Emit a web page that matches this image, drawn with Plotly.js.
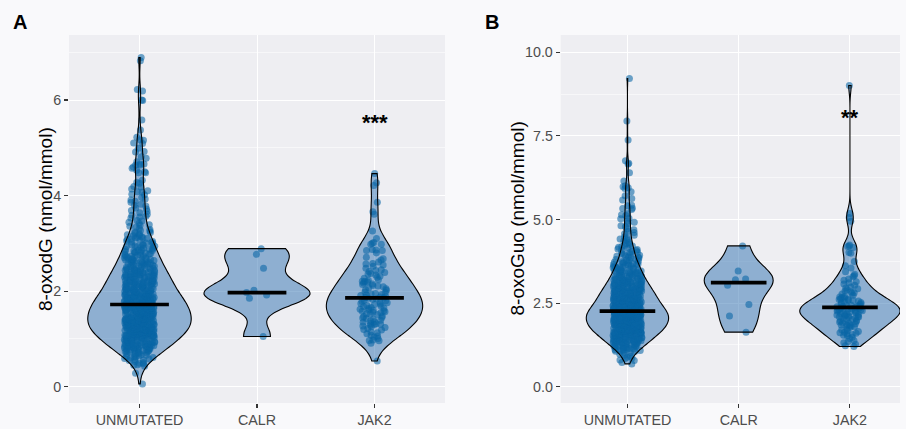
<!DOCTYPE html>
<html><head><meta charset="utf-8">
<script src="https://cdn.plot.ly/plotly-3.0.1.min.js"></script>
<style>html,body{margin:0;padding:0;background:#fff}#chart{width:906px;height:429px}</style>
</head><body><div id="chart"></div>
<script>
// ---------------- DATA (read / estimated from the picture) ----------------
const categories = ['UNMUTATED', 'CALR', 'JAK2'];
const yTitles = ['8-oxodG (nmol/mmol)', '8-oxoGuo (nmol/mmol)'];
const panelLabels = ['A', 'B'];

const unmutA = [0.06,0.28,0.43,0.45,0.46,0.48,0.49,
0.62,0.55,0.71,0.58,0.66,0.74,0.51,0.69,0.6,0.73,0.64,0.57,0.7,0.68,0.53,0.72,0.61,0.74,0.65,0.59,0.67,0.71,0.63,0.56,
0.81,0.93,0.77,0.88,0.96,0.84,0.79,0.91,0.99,0.86,0.76,0.83,0.95,0.9,0.78,0.87,0.97,0.82,0.92,0.8,
0.89,0.98,0.85,0.75,0.94,0.81,0.87,0.93,0.79,0.96,0.84,0.9,0.77,0.99,0.86,0.92,0.83,0.88,0.95,0.8,
0.97,0.85,0.91,0.78,0.89,0.94,0.82,0.98,0.87,0.76,0.93,0.84,0.9,0.96,0.88,
1.12,1.03,1.21,1.08,1.17,1.01,1.14,1.23,1.06,1.19,1.1,1.24,1.04,1.16,1.09,1.2,1.02,1.13,1.22,1.07,
1.18,1.05,1.15,1.11,1.24,1.0,1.19,1.08,1.21,1.13,1.03,1.17,1.1,1.22,1.06,1.15,1.01,1.2,1.12,1.09,
1.23,1.04,1.18,1.14,1.07,1.21,1.11,1.02,1.16,1.24,1.05,1.19,1.13,1.08,1.22,1.1,1.17,1.03,1.2,1.15,
1.06,1.23,1.12,1.09,1.18,1.01,1.14,1.21,1.07,1.16,1.11,1.24,1.04,1.19,1.13,1.22,1.08,1.17,1.1,1.2,
1.37,1.28,1.45,1.31,1.42,1.26,1.39,1.48,1.33,1.44,1.29,1.41,1.35,1.47,1.27,1.38,1.46,1.32,1.4,1.49,
1.3,1.43,1.36,1.25,1.45,1.34,1.41,1.28,1.47,1.38,1.33,1.44,1.26,1.39,1.48,1.31,1.42,1.35,1.29,1.46,
1.37,1.27,1.43,1.32,1.49,1.4,1.3,1.45,1.36,1.28,1.41,1.34,1.47,1.25,1.38,1.44,1.33,1.42,1.29,1.46,
1.35,1.4,1.27,1.48,1.31,1.43,1.37,1.26,1.45,1.39,1.32,1.47,1.36,1.3,1.44,1.41,1.28,1.49,1.34,1.38,
1.42,1.33,1.46,1.29,1.4,1.35,1.43,1.37,
1.62,1.53,1.7,1.57,1.66,1.51,1.73,1.59,1.68,1.55,1.64,1.72,1.52,1.61,1.69,1.56,1.74,1.6,1.65,1.5,
1.67,1.58,1.71,1.54,1.63,1.7,1.57,1.66,1.52,1.73,1.61,1.55,1.68,1.64,1.59,1.72,1.53,1.65,1.74,1.58,
1.62,1.5,1.69,1.56,1.67,1.6,1.71,1.54,1.63,1.66,1.51,1.7,1.58,1.73,1.61,1.55,1.68,1.64,1.57,1.72,
1.52,1.65,1.6,1.74,1.59,1.67,1.53,1.69,1.62,1.56,1.71,1.63,1.54,1.66,1.58,1.73,1.61,1.68,1.5,1.64,
1.57,1.7,1.55,1.67,
1.86,1.77,1.93,1.81,1.98,1.84,1.76,1.91,1.88,1.95,1.79,1.83,1.97,1.87,1.75,1.92,1.8,1.89,1.99,1.85,
1.78,1.94,1.82,1.9,1.96,1.86,1.77,1.93,1.84,1.81,1.98,1.88,1.76,1.91,1.83,1.95,1.79,1.87,1.97,1.85,
1.8,1.92,1.89,1.75,1.94,1.82,1.99,1.86,1.78,1.9,1.84,1.96,1.81,1.88,1.93,1.77,1.85,1.91,1.83,1.97,
1.79,1.87,1.95,1.82,1.9,1.76,1.89,1.94,1.8,1.86,
2.12,2.03,2.19,2.07,2.23,2.01,2.15,2.09,2.21,2.05,2.17,2.11,2.0,2.24,2.08,2.14,2.02,2.2,2.1,2.16,
2.06,2.22,2.13,2.04,2.18,2.09,2.24,2.01,2.15,2.11,2.07,2.2,2.03,2.17,2.12,2.23,2.05,2.14,2.19,2.08,
2.02,2.16,2.1,2.21,2.06,2.13,2.0,2.18,2.04,2.22,2.11,2.15,2.07,2.19,2.09,2.14,2.03,2.17,
2.36,2.27,2.43,2.31,2.48,2.29,2.39,2.34,2.45,2.26,2.41,2.33,2.47,2.3,2.38,2.44,2.28,2.35,2.49,2.32,
2.4,2.25,2.46,2.37,2.3,2.42,2.34,2.27,2.45,2.39,2.31,2.48,2.36,2.29,2.43,2.26,2.38,2.44,2.33,2.47,
2.35,2.28,2.41,2.32,2.46,2.37,2.4,2.3,
2.61,2.52,2.68,2.56,2.73,2.59,2.65,2.51,2.7,2.63,2.54,2.67,2.58,2.74,2.6,2.53,2.69,2.64,2.57,2.72,
2.5,2.66,2.62,2.55,2.71,2.59,2.68,2.53,2.63,2.74,2.57,2.65,2.61,2.52,2.7,2.56,2.67,
2.86,2.77,2.93,2.81,2.98,2.84,2.79,2.91,2.88,2.96,2.82,2.76,2.94,2.87,2.8,2.99,2.85,2.9,2.78,2.95,
2.83,2.92,2.89,2.75,2.97,2.86,2.81,2.93,
3.11,3.02,3.18,3.06,3.23,3.09,3.14,3.01,3.2,3.12,3.04,3.17,3.08,3.24,3.13,3.05,3.21,3.1,3.16,3.03,
3.36,3.27,3.44,3.31,3.48,3.39,3.29,3.42,3.34,3.47,3.26,3.38,
3.61,3.53,3.69,3.57,3.72,3.64,3.55,3.67,3.59,3.74,
3.82,3.91,3.78,3.96,3.86,3.93,3.8,3.88,
6.89,6.82,6.22,6.19,6.0,5.99,5.58,5.37,5.22,5.17,5.16,5.1,5.09,4.99,4.92,4.91,4.81,4.78,4.71,4.66,
4.66,4.64,4.64,4.6,4.57,4.53,4.5,4.48,4.48,4.32,4.28,4.26,4.19,4.18,4.1,4.08,4.07,4.03,4.02,4.14];

const calrA = [2.89,2.77,2.48,2.02,1.97,1.92,1.85,1.05];

const jak2A = [0.54,0.96,0.98,0.91,0.97,
1.01,1.08,1.15,1.22,1.04,1.19,1.11,1.24,1.06,1.13,1.2,
1.3,1.36,1.27,1.43,1.33,1.48,1.39,1.26,1.45,1.31,1.41,1.35,1.47,1.29,1.38,1.44,1.32,
1.62,1.53,1.7,1.57,1.66,1.51,1.73,1.59,1.68,1.55,1.64,1.72,1.52,1.61,1.69,1.56,1.74,1.6,1.65,1.58,
1.86,1.77,1.93,1.81,1.98,1.84,1.76,1.91,1.88,1.95,1.79,1.83,1.97,1.87,1.92,1.8,1.89,1.85,1.94,
2.12,2.03,2.19,2.07,2.23,2.15,2.09,2.21,2.05,2.17,2.11,2.24,2.14,2.02,2.2,
2.36,2.27,2.43,2.31,2.48,2.39,2.34,2.45,2.29,2.41,2.37,
2.61,2.52,2.68,2.57,2.71,2.65,2.58,2.55,
2.98,2.98,2.87,2.86,2.85,2.85,2.8,
3.0,3.1,3.02,3.26,3.66,3.61,3.86,4.46,4.27,4.21];

const unmutB = [0.68,0.72,0.78,0.91,0.84,0.97,0.8,0.88,0.94,0.86,
1.12,1.03,1.21,1.08,1.17,1.14,1.23,1.06,1.19,1.1,1.24,1.16,1.09,1.2,1.02,1.13,1.22,1.07,1.18,1.15,1.11,1.24,1.19,1.05,1.21,
1.37,1.28,1.45,1.31,1.42,1.26,1.39,1.48,1.33,1.44,1.29,1.41,1.35,1.47,1.27,1.38,1.46,1.32,1.4,1.49,
1.3,1.43,1.36,1.25,1.45,1.34,1.41,1.28,1.47,1.38,1.33,1.44,1.39,1.48,1.31,1.42,1.35,1.46,1.37,1.43,1.49,1.4,1.45,1.36,
1.62,1.53,1.7,1.57,1.66,1.51,1.73,1.59,1.68,1.55,1.64,1.72,1.52,1.61,1.69,1.56,1.74,1.6,1.65,1.5,
1.67,1.58,1.71,1.54,1.63,1.7,1.57,1.66,1.52,1.73,1.61,1.55,1.68,1.64,1.59,1.72,1.53,1.65,1.74,1.58,
1.62,1.69,1.56,1.67,1.6,1.71,1.54,1.63,1.66,1.7,1.58,1.73,1.61,1.68,1.64,1.72,1.65,1.74,1.59,1.67,1.63,1.71,
1.86,1.77,1.93,1.81,1.98,1.84,1.76,1.91,1.88,1.95,1.79,1.83,1.97,1.87,1.75,1.92,1.8,1.89,1.99,1.85,
1.78,1.94,1.82,1.9,1.96,1.86,1.77,1.93,1.84,1.81,1.98,1.88,1.76,1.91,1.83,1.95,1.79,1.87,1.97,1.85,
1.8,1.92,1.89,1.75,1.94,1.82,1.99,1.86,1.78,1.9,1.84,1.96,1.81,1.88,1.93,1.77,1.85,1.91,1.83,1.97,
1.79,1.87,1.95,1.82,1.9,1.76,1.89,1.94,1.8,1.86,1.92,1.98,1.84,1.96,1.88,1.99,
2.12,2.03,2.19,2.07,2.23,2.01,2.15,2.09,2.21,2.05,2.17,2.11,2.0,2.24,2.08,2.14,2.02,2.2,2.1,2.16,
2.06,2.22,2.13,2.04,2.18,2.09,2.24,2.01,2.15,2.11,2.07,2.2,2.03,2.17,2.12,2.23,2.05,2.14,2.19,2.08,
2.02,2.16,2.1,2.21,2.06,2.13,2.0,2.18,2.04,2.22,2.11,2.15,2.07,2.19,2.09,2.14,2.03,2.17,2.12,2.24,
2.06,2.2,2.1,2.16,2.01,2.23,2.13,2.08,2.18,2.05,2.21,2.11,2.15,2.02,2.19,2.09,2.14,2.22,2.07,2.17,2.12,2.04,
2.36,2.27,2.43,2.31,2.48,2.29,2.39,2.34,2.45,2.26,2.41,2.33,2.47,2.3,2.38,2.44,2.28,2.35,2.49,2.32,
2.4,2.25,2.46,2.37,2.3,2.42,2.34,2.27,2.45,2.39,2.31,2.48,2.36,2.29,2.43,2.26,2.38,2.44,2.33,2.47,
2.35,2.28,2.41,2.32,2.46,2.37,2.4,2.3,2.43,2.27,2.39,2.34,2.48,2.31,2.45,2.36,2.29,2.42,2.33,2.47,
2.38,2.26,2.44,2.35,2.41,2.32,2.49,2.37,
2.61,2.52,2.68,2.56,2.73,2.59,2.65,2.51,2.7,2.63,2.54,2.67,2.58,2.74,2.6,2.53,2.69,2.64,2.57,2.72,
2.5,2.66,2.62,2.55,2.71,2.59,2.68,2.53,2.63,2.74,2.57,2.65,2.61,2.52,2.7,2.56,2.67,2.6,2.73,2.54,
2.64,2.69,2.58,2.51,2.66,2.62,2.72,2.55,2.68,2.6,2.57,2.71,2.63,2.53,2.67,2.59,2.65,
2.86,2.77,2.93,2.81,2.98,2.84,2.79,2.91,2.88,2.96,2.82,2.76,2.94,2.87,2.8,2.99,2.85,2.9,2.78,2.95,
2.83,2.92,2.89,2.75,2.97,2.86,2.81,2.93,2.79,2.88,2.84,2.96,2.77,2.91,2.82,2.98,2.87,2.8,2.94,2.85,
2.9,2.76,2.92,2.83,2.97,2.89,2.78,2.95,2.86,
3.11,3.02,3.18,3.06,3.23,3.09,3.14,3.01,3.2,3.12,3.04,3.17,3.08,3.24,3.13,3.05,3.21,3.1,3.16,3.03,
3.19,3.07,3.22,3.0,3.15,3.11,3.06,3.18,3.09,3.13,3.2,3.04,3.16,3.08,3.23,3.12,3.02,3.17,
3.36,3.27,3.44,3.31,3.48,3.39,3.29,3.42,3.34,3.47,3.26,3.38,3.45,3.32,3.41,3.28,3.49,3.35,3.43,3.3,
3.46,3.37,3.25,3.4,3.33,3.47,3.39,3.44,3.31,
3.61,3.53,3.69,3.57,3.72,3.64,3.55,3.67,3.51,3.7,3.59,3.63,3.74,3.56,3.66,3.52,3.71,3.6,3.68,3.54,3.65,3.58,
3.82,3.91,3.78,3.96,3.86,3.8,3.93,3.88,3.76,3.99,3.84,3.9,3.79,3.95,3.87,
4.12,4.03,4.19,4.07,4.23,4.1,4.15,4.01,4.21,4.05,4.17,4.09,
4.36,4.28,4.44,4.31,4.48,4.39,4.26,4.42,
4.61,4.53,4.69,4.57,4.72,4.64,
4.89,4.81,4.95,4.78,4.92,
9.22,7.95,7.38,6.76,6.68,6.66,6.4,6.15,6.01,5.98,5.95,5.93,5.83,5.71,5.63,5.58,5.43,5.41,5.34,5.33,
5.3,5.17,5.14,5.12,5.04,5.02];

const calrB = [4.21,3.46,3.22,3.2,3.03,2.46,2.11,1.63];

const jak2B = [1.2,1.22,1.31,1.27,1.44,1.38,1.48,1.35,
1.52,1.61,1.56,1.68,1.58,1.72,1.54,1.65,1.6,1.7,1.63,
1.86,1.77,1.93,1.81,1.98,1.84,1.91,1.88,1.95,1.79,1.97,1.83,1.9,1.85,
2.12,2.03,2.19,2.07,2.23,2.01,2.15,2.09,2.21,2.05,2.17,2.11,2.24,2.08,2.14,2.02,2.2,2.1,2.16,
2.36,2.27,2.43,2.31,2.48,2.29,2.39,2.34,2.45,2.26,2.41,2.33,2.47,2.3,2.38,2.44,2.28,2.35,2.32,2.4,2.37,
2.61,2.52,2.68,2.56,2.73,2.59,2.65,2.51,2.7,2.63,2.54,2.67,2.58,2.62,
2.86,2.77,2.93,2.81,2.98,2.84,2.9,2.79,2.95,
3.11,3.03,3.18,3.07,3.22,3.14,
3.36,3.29,3.44,3.32,
3.74,3.62,3.99,3.55,
4.24,4.21,4.19,4.16,4.01,
5.18,5.06,4.95,
9.01];

const mediansA = [1.72, 1.97, 1.86];
const mediansB = [2.26, 3.11, 2.37];

const yTickValsA = [0, 2, 4, 6];
const yTickTextA = ['0', '2', '4', '6'];
const yTickValsB = [0, 2.5, 5, 7.5, 10];
const yTickTextB = ['0.0', '2.5', '5.0', '7.5', '10.0'];

const sigLabels = ['***', '**'];
const sigValues = [5.6, 8.13];

// ---------------- STYLE ----------------
const FONT = 'Liberation Sans, Arial, sans-serif';
const violinWidthsA = [0.88, 0.90, 0.82];
const violinWidthsB = [0.74, 0.62, 0.90];
const bwScaleA = [0.85, 0.85, 1];
const bwScaleB = [0.85, 1, 1];
const FILL = 'rgba(46,111,176,0.5)';
const PT = 'rgba(8,102,166,0.58)';

function nrd0(a) {
  const s = a.slice().sort((p, q) => p - q);
  const n = s.length;
  const mean = s.reduce((t, v) => t + v, 0) / n;
  const sd = Math.sqrt(s.reduce((t, v) => t + (v - mean) * (v - mean), 0) / (n - 1));
  const q = p => { const h = (n - 1) * p; const lo = Math.floor(h); const hi = Math.min(lo + 1, n - 1); return s[lo] + (h - lo) * (s[hi] - s[lo]); };
  let lo = Math.min(sd, (q(0.75) - q(0.25)) / 1.34);
  if (!(lo > 0)) lo = sd || 1;
  return 0.9 * lo * Math.pow(n, -0.2);
}

function panelTraces(groups, widths, medians, bwScale, xa, ya) {
  const under = [], over = [], lines = [];
  groups.forEach((g, i) => {
    const bw = nrd0(g) * bwScale[i];
    const pos = i + 1;
    const common = {
      type: 'violin', x0: pos, y: g, orientation: 'v', xaxis: xa, yaxis: ya,
      width: widths[i], scalemode: 'width', spanmode: 'hard', bandwidth: bw,
      box: {visible: false}, meanline: {visible: false}, showlegend: false, hoverinfo: 'skip'
    };
    under.push(Object.assign({}, common, {
      fillcolor: FILL, line: {color: 'rgba(0,0,0,0)', width: 0},
      points: 'all', pointpos: 0, jitter: Math.min(1, 0.13 / (widths[i] / 2)),
      marker: {color: PT, size: 7, line: {width: 0}}
    }));
    over.push(Object.assign({}, common, {
      fillcolor: 'rgba(0,0,0,0)', line: {color: '#000000', width: 1.1}, points: false
    }));
    lines.push({
      type: 'scatter', mode: 'lines', xaxis: xa, yaxis: ya,
      x: [pos - 0.25, pos + 0.25], y: [medians[i], medians[i]],
      line: {color: '#000000', width: 3.6}, showlegend: false, hoverinfo: 'skip'
    });
  });
  return under.concat(over, lines);
}

const data = panelTraces([unmutA, calrA, jak2A], violinWidthsA, mediansA, bwScaleA, 'x', 'y')
  .concat(panelTraces([unmutB, calrB, jak2B], violinWidthsB, mediansB, bwScaleB, 'x2', 'y2'));

const W = 906, H = 429;
const yDom = [1 - 403 / H, 1 - 35 / H];
const yMid = (yDom[0] + yDom[1]) / 2;
const tickFont = {family: FONT, size: 14.3, color: '#4d4d4d'};
function xAxis(dom, range, anchor) {
  return {domain: dom, range: range, anchor: anchor, tickmode: 'array', tickvals: [1, 2, 3], ticktext: categories,
    showgrid: true, gridcolor: '#ffffff', gridwidth: 1, zeroline: false, showline: false,
    ticks: 'outside', ticklen: 4, tickwidth: 1.1, tickcolor: '#333333', tickfont: tickFont, fixedrange: true};
}
function yAxis(range, tv, tt, minorVals, anchor) {
  return {domain: yDom, range: range, anchor: anchor, tickmode: 'array', tickvals: tv, ticktext: tt,
    showgrid: true, gridcolor: '#ffffff', gridwidth: 1, zeroline: false, showline: false,
    ticks: 'outside', ticklen: 4, tickwidth: 1.1, tickcolor: '#333333', tickfont: tickFont,
    minor: {tickmode: 'array', tickvals: minorVals, showgrid: true, gridcolor: '#ffffff', gridwidth: 0.55, ticks: ''},
    automargin: false, fixedrange: true};
}
const titleFont = {family: FONT, size: 19, color: '#000000'};
const letterFont = {family: FONT, size: 20, color: '#000000'};
const sigFont = {family: FONT, size: 22, color: '#000000'};

const layout = {
  width: W, height: H,
  margin: {l: 0, r: 0, t: 0, b: 0},
  paper_bgcolor: '#f9f9fb', plot_bgcolor: '#eeeef2',
  violinmode: 'overlay', showlegend: false,
  xaxis: xAxis([69 / W, 445 / W], [0.4, 3.6], 'y'),
  yaxis: yAxis([-0.34, 7.36], yTickValsA, yTickTextA, [1, 3, 5, 7], 'x'),
  xaxis2: xAxis([560.7 / W, 900 / W], [0.4, 3.45], 'y2'),
  yaxis2: yAxis([-0.49, 10.52], yTickValsB, yTickTextB, [1.25, 3.75, 6.25, 8.75], 'x2'),
  annotations: [
    {xref: 'paper', yref: 'paper', x: 45 / W, y: yMid, text: yTitles[0], textangle: -90, showarrow: false,
     xanchor: 'center', yanchor: 'middle', font: titleFont},
    {xref: 'paper', yref: 'paper', x: 516.5 / W, y: yMid, text: yTitles[1], textangle: -90, showarrow: false,
     xanchor: 'center', yanchor: 'middle', font: titleFont},
    {xref: 'paper', yref: 'paper', x: 20 / W, y: 1 - 21.5 / H, text: '<b>' + panelLabels[0] + '</b>', showarrow: false,
     xanchor: 'center', yanchor: 'middle', font: letterFont},
    {xref: 'paper', yref: 'paper', x: 491.5 / W, y: 1 - 21.5 / H, text: '<b>' + panelLabels[1] + '</b>', showarrow: false,
     xanchor: 'center', yanchor: 'middle', font: letterFont},
    {xref: 'x', yref: 'y', x: 3, y: sigValues[0], text: '<b>' + sigLabels[0] + '</b>', showarrow: false,
     xanchor: 'center', yanchor: 'middle', yshift: -3, font: sigFont},
    {xref: 'x2', yref: 'y2', x: 3, y: sigValues[1], text: '<b>' + sigLabels[1] + '</b>', showarrow: false,
     xanchor: 'center', yanchor: 'middle', yshift: -3, font: sigFont}
  ]
};

Plotly.newPlot('chart', data, layout, {staticPlot: true, displayModeBar: false});
</script>
</body></html>
